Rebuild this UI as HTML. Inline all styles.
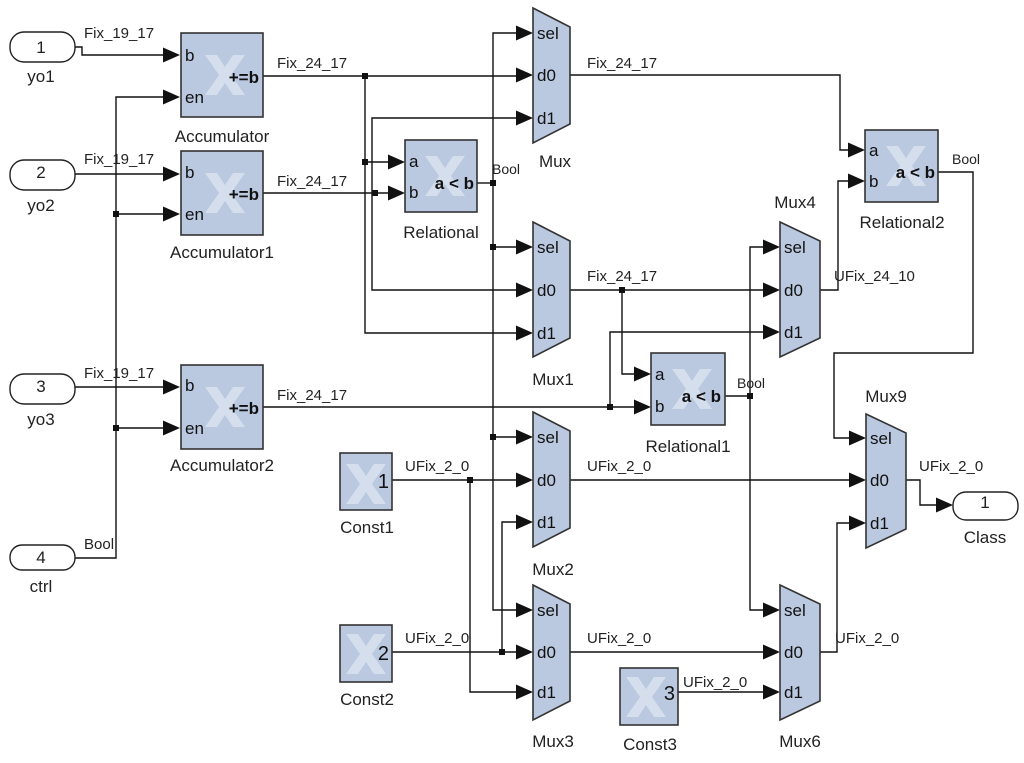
<!DOCTYPE html>
<html><head><meta charset="utf-8"><style>
html,body{margin:0;padding:0;background:#fff;}
svg{display:block;font-family:"Liberation Sans",sans-serif;}
.w{fill:none;stroke:#111;stroke-width:1.4;}
.blk{fill:#bac8e0;stroke:#333;stroke-width:1.6;}
.lg{fill:#e4eaf4;opacity:.65;}
.t{font-size:15px;fill:#222;}
.n{font-size:17px;fill:#222;text-anchor:middle;}
.p{font-size:17px;fill:#111;}
.b{font-size:17px;font-weight:bold;fill:#111;}
.port{fill:#fff;stroke:#222;stroke-width:1.4;}
</style></head><body>
<svg width="1024" height="763" viewBox="0 0 1024 763" xmlns="http://www.w3.org/2000/svg">
<defs>
<g id="logo"><path class="lg" d="M0,0 h12 l8,12 l8,-12 h12 l-14,20 l14,20 h-12 l-8,-12 l-8,12 h-12 l14,-20 z"/></g>
<polygon id="ar" points="-17,-7.5 0,0 -17,7.5" fill="#111"/>
</defs>
<g class="w">
<path d="M75,47 H82 V55 H166"/>
<path d="M75,174 H166"/>
<path d="M75,387 H166"/>
<path d="M75,558 H116 V97 H166"/>
<path d="M116,214 H166"/><path d="M116,428 H166"/>
<path d="M263,76 H519"/>
<path d="M365,76 V333 H519"/><path d="M365,162 H391"/>
<path d="M263,193 H391"/>
<path d="M519,118 H372 V290 H519"/>
<path d="M477,183 H493"/>
<path d="M519,33 H493 V610 H519"/><path d="M493,247 H519"/><path d="M493,437 H519"/>
<path d="M570,75 H840 V150 H851"/>
<path d="M570,290 H766"/><path d="M622,290 V374 H637"/>
<path d="M263,407 H637"/><path d="M610,407 V332 H766"/>
<path d="M725,396 H750"/><path d="M766,247 H750 V610 H766"/>
<path d="M820,290 H838 V181 H851"/>
<path d="M938,172 H973 V353 H834 V438 H852"/>
<path d="M392,480 H519"/><path d="M470,480 V692 H519"/>
<path d="M392,652 H519"/><path d="M502,652 V522 H519"/>
<path d="M570,480 H852"/>
<path d="M570,652 H766"/>
<path d="M678,692 H766"/>
<path d="M820,652 H837 V523 H852"/>
<path d="M906,480 H920 V505 H939"/>
</g>
<g fill="#111">
<rect x="113" y="211" width="6" height="6"/><rect x="113" y="425" width="6" height="6"/>
<rect x="362" y="73" width="6" height="6"/><rect x="362" y="159" width="6" height="6"/>
<rect x="372" y="190" width="6" height="6"/>
<rect x="490" y="180" width="6" height="6"/><rect x="490" y="244" width="6" height="6"/><rect x="490" y="434" width="6" height="6"/>
<rect x="619" y="287" width="6" height="6"/><rect x="607" y="404" width="6" height="6"/>
<rect x="747" y="393" width="6" height="6"/>
<rect x="467" y="477" width="6" height="6"/><rect x="499" y="649" width="6" height="6"/>
</g>
<g>
<use href="#ar" x="180" y="55"/><use href="#ar" x="180" y="97"/>
<use href="#ar" x="180" y="174"/><use href="#ar" x="180" y="214"/>
<use href="#ar" x="180" y="387"/><use href="#ar" x="180" y="428"/>
<use href="#ar" x="405" y="162"/><use href="#ar" x="405" y="193"/>
<use href="#ar" x="533" y="33"/><use href="#ar" x="533" y="75"/><use href="#ar" x="533" y="118"/>
<use href="#ar" x="533" y="247"/><use href="#ar" x="533" y="290"/><use href="#ar" x="533" y="333"/>
<use href="#ar" x="533" y="437"/><use href="#ar" x="533" y="480"/><use href="#ar" x="533" y="522"/>
<use href="#ar" x="533" y="610"/><use href="#ar" x="533" y="652"/><use href="#ar" x="533" y="692"/>
<use href="#ar" x="780" y="247"/><use href="#ar" x="780" y="290"/><use href="#ar" x="780" y="332"/>
<use href="#ar" x="780" y="610"/><use href="#ar" x="780" y="652"/><use href="#ar" x="780" y="692"/>
<use href="#ar" x="651" y="374"/><use href="#ar" x="651" y="407"/>
<use href="#ar" x="865" y="150"/><use href="#ar" x="865" y="181"/>
<use href="#ar" x="866" y="438"/><use href="#ar" x="866" y="480"/><use href="#ar" x="866" y="523"/>
<use href="#ar" x="953" y="505"/>
</g>
<rect class="port" x="10" y="32" width="65" height="30" rx="14"/><text class="n" x="41" y="53">1</text><text class="n" x="41" y="82">yo1</text>
<rect class="port" x="10" y="160" width="65" height="30" rx="14"/><text class="n" x="41" y="178">2</text><text class="n" x="41" y="211">yo2</text>
<rect class="port" x="10" y="374" width="65" height="30" rx="14"/><text class="n" x="41" y="392">3</text><text class="n" x="41" y="425">yo3</text>
<rect class="port" x="10" y="545" width="65" height="25" rx="12"/><text class="n" x="41" y="563">4</text><text class="n" x="41" y="592">ctrl</text>
<rect class="port" x="953" y="492" width="65" height="28" rx="13"/><text class="n" x="985" y="508">1</text><text class="n" x="985" y="543">Class</text>
<g>
<rect class="blk" x="181" y="33" width="82" height="84"/><use href="#logo" x="205" y="55"/>
<text class="p" x="185" y="61">b</text><text class="p" x="185" y="103">en</text><text class="b" x="259" y="83" text-anchor="end">+=b</text>
<text class="n" x="222" y="142">Accumulator</text>
<rect class="blk" x="181" y="151" width="82" height="84"/><use href="#logo" x="205" y="173"/>
<text class="p" x="185" y="178">b</text><text class="p" x="185" y="220">en</text><text class="b" x="259" y="200" text-anchor="end">+=b</text>
<text class="n" x="222" y="258">Accumulator1</text>
<rect class="blk" x="181" y="365" width="82" height="84"/><use href="#logo" x="205" y="387"/>
<text class="p" x="185" y="391">b</text><text class="p" x="185" y="434">en</text><text class="b" x="259" y="414" text-anchor="end">+=b</text>
<text class="n" x="222" y="471">Accumulator2</text>
</g>
<rect class="blk" x="405" y="140" width="72" height="72"/><use href="#logo" x="425" y="156"/>
<text class="p" x="409" y="167">a</text><text class="p" x="409" y="198">b</text><text class="b" x="474" y="189" text-anchor="end">a &lt; b</text>
<text class="n" x="441" y="238">Relational</text>
<rect class="blk" x="651" y="353" width="74" height="72"/><use href="#logo" x="672" y="369"/>
<text class="p" x="655" y="380">a</text><text class="p" x="655" y="412">b</text><text class="b" x="721" y="402" text-anchor="end">a &lt; b</text>
<text class="n" x="688" y="452">Relational1</text>
<rect class="blk" x="865" y="130" width="73" height="72"/><use href="#logo" x="886" y="146"/>
<text class="p" x="869" y="156">a</text><text class="p" x="869" y="187">b</text><text class="b" x="935" y="178" text-anchor="end">a &lt; b</text>
<text class="n" x="902" y="228">Relational2</text>
<g>
<path class="blk" d="M533,8 L570,27 V124 L533,143 Z"/>
<text class="p" x="537" y="39">sel</text><text class="p" x="537" y="81">d0</text><text class="p" x="537" y="124">d1</text>
<text class="n" x="555" y="167">Mux</text>
<path class="blk" d="M533,222 L570,241 V338 L533,357 Z"/>
<text class="p" x="537" y="253">sel</text><text class="p" x="537" y="296">d0</text><text class="p" x="537" y="339">d1</text>
<text class="n" x="553" y="385">Mux1</text>
<path class="blk" d="M533,412 L570,431 V528 L533,547 Z"/>
<text class="p" x="537" y="443">sel</text><text class="p" x="537" y="486">d0</text><text class="p" x="537" y="528">d1</text>
<text class="n" x="553" y="575">Mux2</text>
<path class="blk" d="M533,585 L570,604 V701 L533,720 Z"/>
<text class="p" x="537" y="616">sel</text><text class="p" x="537" y="658">d0</text><text class="p" x="537" y="698">d1</text>
<text class="n" x="553" y="747">Mux3</text>
<path class="blk" d="M780,222 L820,241 V338 L780,357 Z"/>
<text class="p" x="784" y="253">sel</text><text class="p" x="784" y="296">d0</text><text class="p" x="784" y="338">d1</text>
<text class="n" x="795" y="208">Mux4</text>
<path class="blk" d="M780,585 L820,604 V701 L780,720 Z"/>
<text class="p" x="784" y="616">sel</text><text class="p" x="784" y="658">d0</text><text class="p" x="784" y="698">d1</text>
<text class="n" x="800" y="747">Mux6</text>
<path class="blk" d="M866,414 L906,433 V529 L866,548 Z"/>
<text class="p" x="870" y="444">sel</text><text class="p" x="870" y="486">d0</text><text class="p" x="870" y="529">d1</text>
<text class="n" x="886" y="402">Mux9</text>
</g>
<rect class="blk" x="340" y="453" width="52" height="57"/><use href="#logo" x="346" y="464"/><text class="p" x="389" y="488" text-anchor="end" style="font-size:20px">1</text>
<text class="n" x="367" y="533">Const1</text>
<rect class="blk" x="340" y="625" width="52" height="57"/><use href="#logo" x="346" y="634"/><text class="p" x="389" y="660" text-anchor="end" style="font-size:20px">2</text>
<text class="n" x="367" y="705">Const2</text>
<rect class="blk" x="620" y="668" width="58" height="57"/><use href="#logo" x="626" y="677"/><text class="p" x="675" y="700" text-anchor="end" style="font-size:20px">3</text>
<text class="n" x="650" y="750">Const3</text>
<g class="t">
<text x="84" y="38">Fix_19_17</text><text x="84" y="164">Fix_19_17</text><text x="84" y="378">Fix_19_17</text>
<text x="84" y="549">Bool</text>
<text x="277" y="68">Fix_24_17</text><text x="277" y="186">Fix_24_17</text><text x="277" y="400">Fix_24_17</text>
<text x="587" y="68">Fix_24_17</text><text x="587" y="281">Fix_24_17</text>
<text x="492" y="174" style="font-size:14px">Bool</text>
<text x="737" y="388" style="font-size:14px">Bool</text>
<text x="952" y="164" style="font-size:14px">Bool</text>
<text x="834" y="281">UFix_24_10</text>
<text x="405" y="471">UFix_2_0</text><text x="587" y="471">UFix_2_0</text><text x="919" y="471">UFix_2_0</text>
<text x="405" y="643">UFix_2_0</text><text x="587" y="643">UFix_2_0</text><text x="835" y="643">UFix_2_0</text>
<text x="683" y="687">UFix_2_0</text>
</g>
</svg>
</body></html>
